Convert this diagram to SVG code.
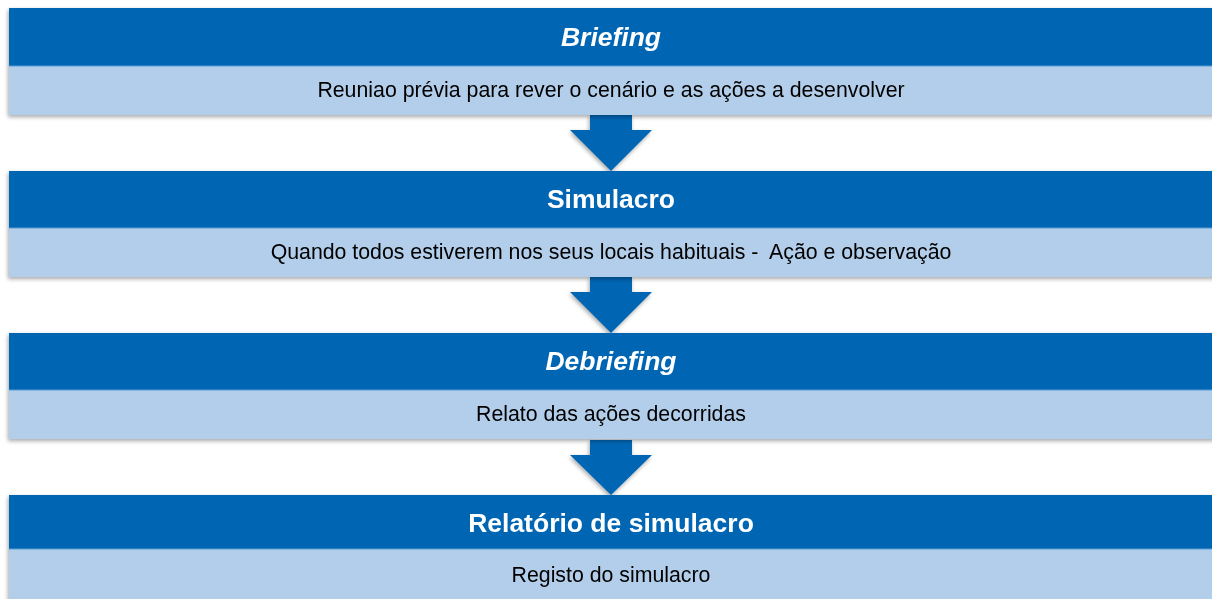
<svg xmlns="http://www.w3.org/2000/svg" width="1212" height="599" viewBox="0 0 1212 599">
<defs>
<filter id="sh" x="-5%" y="-20%" width="110%" height="140%">
<feGaussianBlur in="SourceAlpha" stdDeviation="2"/>
<feOffset dx="-1" dy="2" result="b"/>
<feComponentTransfer><feFuncA type="linear" slope="0.35"/></feComponentTransfer>
<feMerge><feMergeNode/><feMergeNode in="SourceGraphic"/></feMerge>
</filter>
<style>
.hd{fill:#0066B3}
.bd{fill:#B3CEEA}
.sep{stroke:#5B9BD5;stroke-width:1}
.t{font-family:"Liberation Sans",Arial,sans-serif;font-size:26.5px;font-weight:bold;fill:#fff;text-anchor:middle}
.i{font-style:italic}
.b{font-family:"Liberation Sans",Arial,sans-serif;font-size:21.3px;fill:#000;text-anchor:middle}
.ar{fill:#0066B3}
</style>
</defs>
<rect width="1212" height="599" fill="#fff"/>
<g id="connectors" filter="url(#sh)">
<polygon class="ar" points="590,115 632,115 632,130 652,130 611,171 570,130 590,130"/>
<polygon class="ar" points="590,277 632,277 632,292 652,292 611,333 570,292 590,292"/>
<polygon class="ar" points="590,440 632,440 632,455 652,455 611,495 570,455 590,455"/>
</g>
<g id="briefing" filter="url(#sh)">
<rect class="hd" x="9" y="8" width="1210" height="58"/>
<rect class="bd" x="9" y="66" width="1210" height="49"/>
<line class="sep" x1="9" y1="66" x2="1212" y2="66"/>
<text class="t i" x="611" y="46">Briefing</text>
<text class="b" x="611" y="97">Reuniao prévia para rever o cenário e as ações a desenvolver</text>
</g>
<g id="simulacro" filter="url(#sh)">
<rect class="hd" x="9" y="171" width="1210" height="57"/>
<rect class="bd" x="9" y="228" width="1210" height="49"/>
<line class="sep" x1="9" y1="228" x2="1212" y2="228"/>
<text class="t" x="611" y="208">Simulacro</text>
<text class="b" x="611" y="259" xml:space="preserve">Quando todos estiverem nos seus locais habituais -  Ação e observação</text>
</g>
<g id="debriefing" filter="url(#sh)">
<rect class="hd" x="9" y="333" width="1210" height="57"/>
<rect class="bd" x="9" y="390" width="1210" height="49"/>
<line class="sep" x1="9" y1="390" x2="1212" y2="390"/>
<text class="t i" x="611" y="370">Debriefing</text>
<text class="b" x="611" y="421">Relato das ações decorridas</text>
</g>
<g id="relatorio" filter="url(#sh)">
<rect class="hd" x="9" y="495" width="1210" height="54"/>
<rect class="bd" x="9" y="549" width="1210" height="52"/>
<line class="sep" x1="9" y1="549" x2="1212" y2="549"/>
<text class="t" x="611" y="532">Relatório de simulacro</text>
<text class="b" x="611" y="582">Registo do simulacro</text>
</g>
</svg>
